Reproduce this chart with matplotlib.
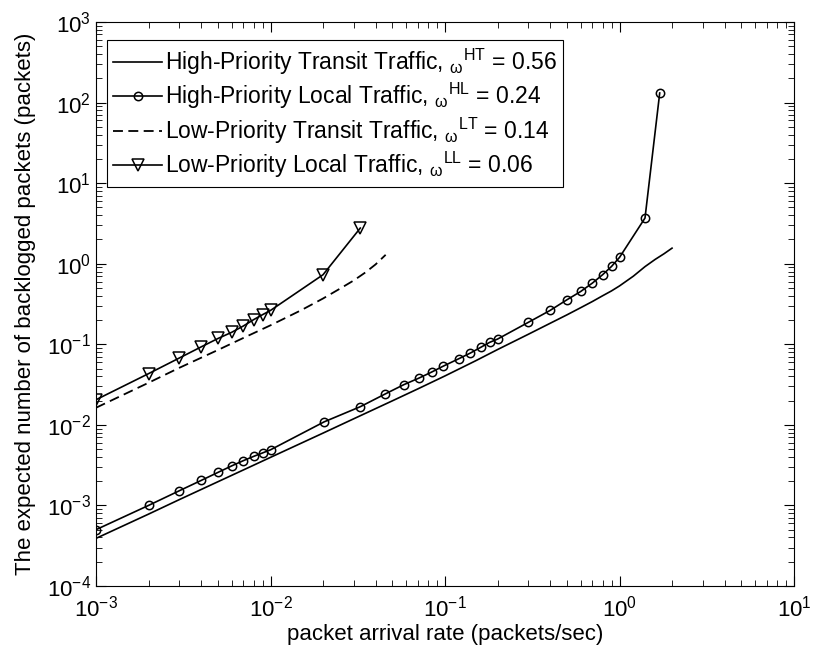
import matplotlib
matplotlib.use("Agg")
import matplotlib.pyplot as plt

plt.rcParams['font.family'] = ['Liberation Sans', 'DejaVu Sans']
plt.rcParams['mathtext.fontset'] = 'custom'
plt.rcParams['mathtext.rm'] = 'Liberation Sans'
plt.rcParams['mathtext.it'] = 'Liberation Sans:italic'
plt.rcParams['mathtext.bf'] = 'Liberation Sans:bold'

# high-priority transit (solid, no markers)
ht_x = [0.001, 0.002, 0.003, 0.005, 0.007, 0.01, 0.02, 0.03, 0.05, 0.07, 0.1,
        0.15, 0.2, 0.3, 0.4, 0.5, 0.6, 0.7, 0.8, 0.9, 1.0, 1.2, 1.4, 1.6, 1.8, 2.0]
ht_y = [0.00039, 0.00078, 0.00118, 0.00197, 0.00276, 0.00395, 0.0079, 0.0119,
        0.0199, 0.028, 0.0405, 0.0625, 0.086, 0.133, 0.182, 0.232, 0.285, 0.34,
        0.40, 0.46, 0.53, 0.70, 0.92, 1.13, 1.33, 1.56]

# high-priority local (circles)
hl_x = [0.001, 0.002, 0.003, 0.004, 0.005, 0.006, 0.007, 0.008, 0.009, 0.01,
        0.0203, 0.0327, 0.0453, 0.058, 0.071, 0.084, 0.097, 0.12, 0.14, 0.16,
        0.18, 0.2, 0.3, 0.4, 0.5, 0.6, 0.7, 0.8, 0.9, 1.0, 1.4, 1.7]
hl_y = [0.0005, 0.001, 0.00152, 0.00204, 0.00257, 0.0031, 0.0036, 0.00406,
        0.00448, 0.0049, 0.0109, 0.0168, 0.0241, 0.0315, 0.0381, 0.0453, 0.0531,
        0.0662, 0.078, 0.0915, 0.1055, 0.116, 0.187, 0.263, 0.357, 0.453, 0.576,
        0.730, 0.925, 1.197, 3.69, 131.5]

# low-priority transit (dashed)
lt_x = [0.001, 0.002, 0.003, 0.005, 0.007, 0.01, 0.015, 0.02, 0.025, 0.03,
        0.035, 0.04, 0.0457]
lt_y = [0.0163, 0.0333, 0.051, 0.085, 0.12, 0.172, 0.265, 0.37, 0.49, 0.62,
        0.78, 0.98, 1.29]

# low-priority local (triangles)
ll_x = [0.001, 0.002, 0.003, 0.004, 0.005, 0.006, 0.007, 0.008, 0.009, 0.01,
        0.02, 0.0327]
ll_y = [0.0205, 0.0432, 0.0675, 0.0927, 0.118, 0.141, 0.169, 0.202, 0.233,
        0.263, 0.730, 2.77]

labels = [r'High-Priority Transit Traffic, $\mathregular{{}_{\omega}{}^{HT}}$ = 0.56',
          r'High-Priority Local Traffic, $\mathregular{{}_{\omega}{}^{HL}}$ = 0.24',
          r'Low-Priority Transit Traffic, $\mathregular{{}_{\omega}{}^{LT}}$ = 0.14',
          r'Low-Priority Local Traffic, $\mathregular{{}_{\omega}{}^{LL}}$ = 0.06']

fig = plt.figure(figsize=(8.16, 6.52), dpi=100)
ax = fig.add_axes([96/816, 66/652, 698/816, 564/652])

ax.plot(ht_x, ht_y, color='k', lw=1.2, label=labels[0])
ax.plot(hl_x, hl_y, color='k', lw=1.2, marker='o', ms=6, mfc='none', mew=1.1,
        label=labels[1])
ax.plot(lt_x, lt_y, color='k', lw=1.3, dashes=(5.5, 3), label=labels[2])
ax.plot(ll_x, ll_y, color='k', lw=1.2, marker='v', ms=8, mfc='none', mew=1.1,
        label=labels[3])

ax.set_xscale('log')
ax.set_yscale('log')
ax.set_xlim(1e-3, 1e1)
ax.set_ylim(1e-4, 1e3)

ax.tick_params(which='both', direction='in', top=True, right=True, labelsize=16)
ax.tick_params(which='major', length=7, width=0.8)
ax.tick_params(which='minor', length=4, width=0.6)
ax.tick_params(axis='x', which='major', pad=7)
for s in ax.spines.values():
    s.set_linewidth(0.8)

ax.set_xlabel('packet arrival rate (packets/sec)', fontsize=16, labelpad=2)
ax.set_ylabel('The expected number of backlogged packets (packets)', fontsize=16,
              labelpad=8)

leg = ax.legend(loc='upper left', bbox_to_anchor=(0.0158, 0.968), borderaxespad=0,
                fontsize=16.5, fancybox=False, edgecolor='k', framealpha=1,
                handlelength=2.1, labelspacing=0.19, handletextpad=0.15,
                borderpad=0.28)
leg.get_frame().set_linewidth(0.8)

fig.savefig('out.png', dpi=100)
